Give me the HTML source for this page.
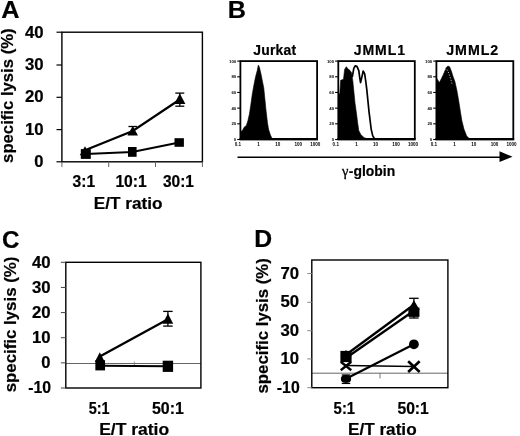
<!DOCTYPE html>
<html lang="en">
<head>
<meta charset="utf-8">
<title>Figure</title>
<style>
html, body { margin: 0; padding: 0; background: #fff; }
body { width: 520px; height: 436px; overflow: hidden; font-family: "Liberation Sans", sans-serif; }
svg { display: block; font-family: "Liberation Sans", sans-serif; }
svg text { fill: #000; }
</style>
</head>
<body>
<svg width="520" height="436" viewBox="0 0 520 436">
<rect x="0" y="0" width="520" height="436" fill="#fff"/>
<!-- Panel A -->
<text transform="translate(1.14,17.7) scale(1.031,1)" font-size="24.6" font-weight="bold" stroke="#000" stroke-width="0.2" stroke-linejoin="round" >A</text>
<rect x="61.9" y="32.2" width="140.5" height="129.60000000000002" fill="none" stroke="#000" stroke-width="1.4"/>
<line x1="56.5" y1="32.2" x2="61.9" y2="32.2" stroke="#000" stroke-width="1.2" />
<text transform="translate(24.92,37.55) scale(1.048,1)" font-size="16" font-weight="bold" stroke="#000" stroke-width="0.2" stroke-linejoin="round" >40</text>
<line x1="56.5" y1="65.0" x2="61.9" y2="65.0" stroke="#000" stroke-width="1.2" />
<text transform="translate(24.92,69.65) scale(1.048,1)" font-size="16" font-weight="bold" stroke="#000" stroke-width="0.2" stroke-linejoin="round" >30</text>
<line x1="56.5" y1="97.3" x2="61.9" y2="97.3" stroke="#000" stroke-width="1.2" />
<text transform="translate(24.93,102.05000000000001) scale(1.048,1)" font-size="16" font-weight="bold" stroke="#000" stroke-width="0.2" stroke-linejoin="round" >20</text>
<line x1="56.5" y1="129.6" x2="61.9" y2="129.6" stroke="#000" stroke-width="1.2" />
<text transform="translate(24.93,134.55) scale(1.048,1)" font-size="16" font-weight="bold" stroke="#000" stroke-width="0.2" stroke-linejoin="round" >10</text>
<line x1="56.5" y1="161.8" x2="61.9" y2="161.8" stroke="#000" stroke-width="1.2" />
<text transform="translate(34.37,166.95000000000002) scale(1.034,1)" font-size="16" font-weight="bold" stroke="#000" stroke-width="0.2" stroke-linejoin="round" >0</text>
<line x1="61.9" y1="161.8" x2="61.9" y2="167" stroke="#666" stroke-width="1.0" />
<line x1="108.7" y1="161.8" x2="108.7" y2="167" stroke="#666" stroke-width="1.0" />
<line x1="155.5" y1="161.8" x2="155.5" y2="167" stroke="#666" stroke-width="1.0" />
<line x1="202.4" y1="161.8" x2="202.4" y2="167" stroke="#666" stroke-width="1.0" />
<text transform="translate(72.52,186.7) scale(0.977,1)" font-size="16" font-weight="bold" stroke="#000" stroke-width="0.2" stroke-linejoin="round" >3:1</text>
<text transform="translate(115.39,186.7) scale(0.982,1)" font-size="16" font-weight="bold" stroke="#000" stroke-width="0.2" stroke-linejoin="round" >10:1</text>
<text transform="translate(162.93,186.7) scale(0.968,1)" font-size="16" font-weight="bold" stroke="#000" stroke-width="0.2" stroke-linejoin="round" >30:1</text>
<text transform="translate(93.76,208.5) scale(1.102,1)" font-size="15.6" font-weight="bold" stroke="#000" stroke-width="0.2" stroke-linejoin="round" >E/T ratio</text>
<text transform="translate(13.4,162.90) rotate(-90) scale(1.031,1)" font-size="16.2" font-weight="bold" stroke="#000" stroke-width="0.2" stroke-linejoin="round">specific lysis (%)</text>
<polyline points="85,150.3 132.7,131 179.8,99.5" fill="none" stroke="#000" stroke-width="2.2"/>
<polyline points="85.8,154 132.3,152 179.2,142.5" fill="none" stroke="#000" stroke-width="1.8"/>
<line x1="132.7" y1="126.5" x2="132.7" y2="134" stroke="#000" stroke-width="1.3" /><line x1="128.45" y1="126.5" x2="136.95" y2="126.5" stroke="#000" stroke-width="1.3" /><line x1="128.45" y1="134" x2="136.95" y2="134" stroke="#000" stroke-width="1.3" />
<line x1="179.8" y1="93.1" x2="179.8" y2="106.2" stroke="#000" stroke-width="1.3" /><line x1="175.3" y1="93.1" x2="184.3" y2="93.1" stroke="#000" stroke-width="1.3" /><line x1="175.3" y1="106.2" x2="184.3" y2="106.2" stroke="#000" stroke-width="1.3" />
<polygon points="85,146.2 90.25,155.2 79.75,155.2" fill="#000"/>
<polygon points="132.7,126.05000000000001 137.95,135.55 127.44999999999999,135.55" fill="#000"/>
<polygon points="179.8,93.6 185.4,104.0 174.20000000000002,104.0" fill="#000"/>
<rect x="80.8" y="149.1" width="10" height="9.8" fill="#000"/>
<rect x="128.0" y="147.0" width="8.6" height="9.8" fill="#000"/>
<rect x="174.5" y="138.2" width="9.4" height="8.6" fill="#000"/>
<!-- Panel B -->
<text transform="translate(227.83,18.1) scale(1.035,1)" font-size="24.4" font-weight="bold" stroke="#000" stroke-width="0.2" stroke-linejoin="round" >B</text>
<clipPath id="hc1"><rect x="240.4" y="61.1" width="76.70000000000002" height="78.4"/></clipPath>
<g clip-path="url(#hc1)">
<polygon points="240.69,139.83 240.69,131.55 242.43,130.46 244.17,127.20 246.35,125.45 247.88,120.66 249.40,114.12 250.71,105.41 252.23,94.52 253.76,85.80 255.50,77.09 257.24,70.55 258.33,65.10 259.42,67.28 260.95,73.82 262.47,81.44 263.78,87.98 264.87,98.87 265.96,109.77 267.48,122.84 268.57,129.37 270.32,134.82 271.84,138.09 274.02,139.83" fill="#000" stroke="#000" stroke-width="0.6" stroke-linejoin="round"/>
</g>
<rect x="240.40" y="61.10" width="76.70" height="78.40" fill="none" stroke="#000" stroke-width="1.8"/>
<line x1="239.5" y1="138.6" x2="318.0" y2="138.6" stroke="#000" stroke-width="1.4" />
<line x1="237.20000000000002" y1="61.1" x2="240.4" y2="61.1" stroke="#000" stroke-width="1.1" />
<text x="236.20000000000002" y="62.6" font-size="4.3" font-weight="bold" text-anchor="end" fill="#333">100</text>
<line x1="237.20000000000002" y1="76.78" x2="240.4" y2="76.78" stroke="#000" stroke-width="1.1" />
<text x="236.20000000000002" y="78.28" font-size="4.3" font-weight="bold" text-anchor="end" fill="#333">80</text>
<line x1="237.20000000000002" y1="92.46000000000001" x2="240.4" y2="92.46000000000001" stroke="#000" stroke-width="1.1" />
<text x="236.20000000000002" y="93.96000000000001" font-size="4.3" font-weight="bold" text-anchor="end" fill="#333">60</text>
<line x1="237.20000000000002" y1="108.14000000000001" x2="240.4" y2="108.14000000000001" stroke="#000" stroke-width="1.1" />
<text x="236.20000000000002" y="109.64000000000001" font-size="4.3" font-weight="bold" text-anchor="end" fill="#333">40</text>
<line x1="237.20000000000002" y1="123.82000000000001" x2="240.4" y2="123.82000000000001" stroke="#000" stroke-width="1.1" />
<text x="236.20000000000002" y="125.32000000000001" font-size="4.3" font-weight="bold" text-anchor="end" fill="#333">20</text>
<line x1="237.20000000000002" y1="139.5" x2="240.4" y2="139.5" stroke="#000" stroke-width="1.1" />
<text x="236.20000000000002" y="141.0" font-size="4.3" font-weight="bold" text-anchor="end" fill="#333">0</text>
<text x="237.9" y="145.5" font-size="4.6" font-weight="bold" text-anchor="middle" fill="#333">0.1</text>
<text x="258.575" y="145.5" font-size="4.6" font-weight="bold" text-anchor="middle" fill="#333">1</text>
<text x="277.75" y="145.5" font-size="4.6" font-weight="bold" text-anchor="middle" fill="#333">10</text>
<text x="298.325" y="145.5" font-size="4.6" font-weight="bold" text-anchor="middle" fill="#333">100</text>
<text x="315.3" y="145.5" font-size="4.6" font-weight="bold" text-anchor="middle" fill="#333">1000</text>
<text transform="translate(253.28,54.8) scale(0.997,1)" font-size="14" font-weight="bold" stroke="#000" stroke-width="0.2" stroke-linejoin="round"  letter-spacing="0.2">Jurkat</text>
<clipPath id="hc2"><rect x="338.3" y="61.1" width="76.5" height="78.4"/></clipPath>
<g clip-path="url(#hc2)">
<polygon points="338.49,139.83 338.49,94.52 339.79,93.43 340.66,80.35 343.50,79.27 344.59,69.46 346.33,66.63 347.85,68.81 350.03,70.55 351.56,72.73 352.87,81.44 353.95,92.34 355.04,103.23 356.57,114.12 357.66,122.84 358.75,130.46 360.93,134.82 364.19,137.65 368.55,139.18 372.91,139.83" fill="#000" stroke="#000" stroke-width="0.6" stroke-linejoin="round"/>
<polyline points="352.27,77.09 353.79,68.37 355.32,65.76 357.06,66.63 358.80,70.55 359.67,77.09 360.54,82.53 361.85,77.09 363.16,70.99 364.68,73.82 365.77,81.44 366.86,90.16 367.95,101.05 369.04,111.94 370.13,120.66 371.22,129.37 372.74,135.91 374.49,138.74 376.67,139.83" fill="none" stroke="#000" stroke-width="1.7" stroke-linejoin="round"/>
</g>
<rect x="338.30" y="61.10" width="76.50" height="78.40" fill="none" stroke="#000" stroke-width="1.8"/>
<line x1="337.40000000000003" y1="138.6" x2="415.7" y2="138.6" stroke="#000" stroke-width="1.4" />
<line x1="335.1" y1="61.1" x2="338.3" y2="61.1" stroke="#000" stroke-width="1.1" />
<text x="334.1" y="62.6" font-size="4.3" font-weight="bold" text-anchor="end" fill="#333">100</text>
<line x1="335.1" y1="76.78" x2="338.3" y2="76.78" stroke="#000" stroke-width="1.1" />
<text x="334.1" y="78.28" font-size="4.3" font-weight="bold" text-anchor="end" fill="#333">80</text>
<line x1="335.1" y1="92.46000000000001" x2="338.3" y2="92.46000000000001" stroke="#000" stroke-width="1.1" />
<text x="334.1" y="93.96000000000001" font-size="4.3" font-weight="bold" text-anchor="end" fill="#333">60</text>
<line x1="335.1" y1="108.14000000000001" x2="338.3" y2="108.14000000000001" stroke="#000" stroke-width="1.1" />
<text x="334.1" y="109.64000000000001" font-size="4.3" font-weight="bold" text-anchor="end" fill="#333">40</text>
<line x1="335.1" y1="123.82000000000001" x2="338.3" y2="123.82000000000001" stroke="#000" stroke-width="1.1" />
<text x="334.1" y="125.32000000000001" font-size="4.3" font-weight="bold" text-anchor="end" fill="#333">20</text>
<line x1="335.1" y1="139.5" x2="338.3" y2="139.5" stroke="#000" stroke-width="1.1" />
<text x="334.1" y="141.0" font-size="4.3" font-weight="bold" text-anchor="end" fill="#333">0</text>
<text x="335.8" y="145.5" font-size="4.6" font-weight="bold" text-anchor="middle" fill="#333">0.1</text>
<text x="356.425" y="145.5" font-size="4.6" font-weight="bold" text-anchor="middle" fill="#333">1</text>
<text x="375.55" y="145.5" font-size="4.6" font-weight="bold" text-anchor="middle" fill="#333">10</text>
<text x="396.075" y="145.5" font-size="4.6" font-weight="bold" text-anchor="middle" fill="#333">100</text>
<text x="413.0" y="145.5" font-size="4.6" font-weight="bold" text-anchor="middle" fill="#333">1000</text>
<text transform="translate(353.78,54.8) scale(1.003,1)" font-size="14" font-weight="bold" stroke="#000" stroke-width="0.2" stroke-linejoin="round"  letter-spacing="0.9">JMML1</text>
<clipPath id="hc3"><rect x="436.4" y="61.1" width="76.89999999999998" height="78.4"/></clipPath>
<g clip-path="url(#hc3)">
<polygon points="436.59,139.83 436.59,78.18 439.42,82.53 441.60,78.18 443.99,72.95 446.17,67.72 447.92,65.98 449.66,66.85 451.62,71.86 452.93,76.22 454.89,81.44 456.85,90.16 458.37,98.87 460.12,109.77 461.86,120.66 464.04,129.37 466.65,135.91 469.92,139.18 473.19,139.83" fill="#000" stroke="#000" stroke-width="0.6" stroke-linejoin="round"/>
<polyline points="442.25,75.34 443.56,71.42 445.30,69.24 447.48,70.11 449.22,74.47 450.97,79.70 452.05,84.06" fill="none" stroke="#fff" stroke-width="0.7" stroke-dasharray="1.2 1.6" stroke-linejoin="round"/>
</g>
<rect x="436.40" y="61.10" width="76.90" height="78.40" fill="none" stroke="#000" stroke-width="1.8"/>
<line x1="435.5" y1="138.6" x2="514.1999999999999" y2="138.6" stroke="#000" stroke-width="1.4" />
<line x1="433.2" y1="61.1" x2="436.4" y2="61.1" stroke="#000" stroke-width="1.1" />
<text x="432.2" y="62.6" font-size="4.3" font-weight="bold" text-anchor="end" fill="#333">100</text>
<line x1="433.2" y1="76.78" x2="436.4" y2="76.78" stroke="#000" stroke-width="1.1" />
<text x="432.2" y="78.28" font-size="4.3" font-weight="bold" text-anchor="end" fill="#333">80</text>
<line x1="433.2" y1="92.46000000000001" x2="436.4" y2="92.46000000000001" stroke="#000" stroke-width="1.1" />
<text x="432.2" y="93.96000000000001" font-size="4.3" font-weight="bold" text-anchor="end" fill="#333">60</text>
<line x1="433.2" y1="108.14000000000001" x2="436.4" y2="108.14000000000001" stroke="#000" stroke-width="1.1" />
<text x="432.2" y="109.64000000000001" font-size="4.3" font-weight="bold" text-anchor="end" fill="#333">40</text>
<line x1="433.2" y1="123.82000000000001" x2="436.4" y2="123.82000000000001" stroke="#000" stroke-width="1.1" />
<text x="432.2" y="125.32000000000001" font-size="4.3" font-weight="bold" text-anchor="end" fill="#333">20</text>
<line x1="433.2" y1="139.5" x2="436.4" y2="139.5" stroke="#000" stroke-width="1.1" />
<text x="432.2" y="141.0" font-size="4.3" font-weight="bold" text-anchor="end" fill="#333">0</text>
<text x="433.9" y="145.5" font-size="4.6" font-weight="bold" text-anchor="middle" fill="#333">0.1</text>
<text x="454.625" y="145.5" font-size="4.6" font-weight="bold" text-anchor="middle" fill="#333">1</text>
<text x="473.84999999999997" y="145.5" font-size="4.6" font-weight="bold" text-anchor="middle" fill="#333">10</text>
<text x="494.4749999999999" y="145.5" font-size="4.6" font-weight="bold" text-anchor="middle" fill="#333">100</text>
<text x="511.49999999999994" y="145.5" font-size="4.6" font-weight="bold" text-anchor="middle" fill="#333">1000</text>
<text transform="translate(446.27,54.8) scale(1.018,1)" font-size="14" font-weight="bold" stroke="#000" stroke-width="0.2" stroke-linejoin="round"  letter-spacing="0.9">JMML2</text>
<line x1="237.5" y1="157.2" x2="502" y2="157.2" stroke="#000" stroke-width="1.6" />
<polygon points="499.5,151.2 512.5,156.8 499.5,162" fill="#000"/>
<text x="342.1" y="175.5" font-size="14.5" font-weight="normal" stroke="#000" stroke-width="0.3" font-family='"Liberation Serif", serif'>γ</text>
<text transform="translate(348.74,175.9) scale(1.010,1)" font-size="13.8" font-weight="bold" stroke="#000" stroke-width="0.2" stroke-linejoin="round" >-globin</text>
<!-- Panel C -->
<text transform="translate(1.88,247.6) scale(0.985,1)" font-size="24.6" font-weight="bold" stroke="#000" stroke-width="0.2" stroke-linejoin="round" >C</text>
<line x1="65.8" y1="363.5" x2="200.9" y2="363.5" stroke="#666" stroke-width="1" />
<line x1="134.3" y1="361.5" x2="134.3" y2="366.5" stroke="#777" stroke-width="0.8" />
<rect x="65.8" y="262.3" width="135.10000000000002" height="125.69999999999999" fill="none" stroke="#000" stroke-width="1.4"/>
<line x1="60.9" y1="262.3" x2="65.8" y2="262.3" stroke="#444" stroke-width="1.0" />
<text transform="translate(31.92,268.0) scale(1.048,1)" font-size="16" font-weight="bold" stroke="#000" stroke-width="0.2" stroke-linejoin="round" >40</text>
<line x1="60.9" y1="287.44" x2="65.8" y2="287.44" stroke="#444" stroke-width="1.0" />
<text transform="translate(31.92,292.95) scale(1.048,1)" font-size="16" font-weight="bold" stroke="#000" stroke-width="0.2" stroke-linejoin="round" >30</text>
<line x1="60.9" y1="312.58" x2="65.8" y2="312.58" stroke="#444" stroke-width="1.0" />
<text transform="translate(31.93,317.9) scale(1.048,1)" font-size="16" font-weight="bold" stroke="#000" stroke-width="0.2" stroke-linejoin="round" >20</text>
<line x1="60.9" y1="337.72" x2="65.8" y2="337.72" stroke="#444" stroke-width="1.0" />
<text transform="translate(31.93,342.85) scale(1.048,1)" font-size="16" font-weight="bold" stroke="#000" stroke-width="0.2" stroke-linejoin="round" >10</text>
<line x1="60.9" y1="362.86" x2="65.8" y2="362.86" stroke="#444" stroke-width="1.0" />
<text transform="translate(41.37,367.8) scale(1.034,1)" font-size="16" font-weight="bold" stroke="#000" stroke-width="0.2" stroke-linejoin="round" >0</text>
<line x1="60.9" y1="388.0" x2="65.8" y2="388.0" stroke="#444" stroke-width="1.0" />
<text transform="translate(28.21,392.8) scale(0.991,1)" font-size="16" font-weight="bold" stroke="#000" stroke-width="0.2" stroke-linejoin="round" >-10</text>
<text transform="translate(88.64,414.2) scale(0.906,1)" font-size="16" font-weight="bold" stroke="#000" stroke-width="0.2" stroke-linejoin="round" >5:1</text>
<text transform="translate(151.89,414.2) scale(0.998,1)" font-size="16" font-weight="bold" stroke="#000" stroke-width="0.2" stroke-linejoin="round" >50:1</text>
<text transform="translate(99.14,435.0) scale(1.122,1)" font-size="15.6" font-weight="bold" stroke="#000" stroke-width="0.2" stroke-linejoin="round" >E/T ratio</text>
<text transform="translate(16.0,392.31) rotate(-90) scale(1.040,1)" font-size="16.2" font-weight="bold" stroke="#000" stroke-width="0.2" stroke-linejoin="round">specific lysis (%)</text>
<line x1="99.8" y1="356.5" x2="167.9" y2="319.3" stroke="#000" stroke-width="2.3" />
<line x1="100.5" y1="365.8" x2="168" y2="366.2" stroke="#000" stroke-width="1.9" />
<line x1="167.9" y1="311.4" x2="167.9" y2="326.1" stroke="#000" stroke-width="1.3" /><line x1="163.15" y1="311.4" x2="172.65" y2="311.4" stroke="#000" stroke-width="1.3" /><line x1="163.15" y1="326.1" x2="172.65" y2="326.1" stroke="#000" stroke-width="1.3" />
<polygon points="99.8,352.2 104.7,361.8 94.89999999999999,361.8" fill="#000"/>
<polygon points="167.9,313.59999999999997 173.20000000000002,323.8 162.6,323.8" fill="#000"/>
<rect x="95.35000000000001" y="360.2" width="9.7" height="10.2" fill="#000"/>
<rect x="162.70000000000002" y="360.7" width="10.4" height="11.2" fill="#000"/>
<!-- Panel D -->
<text transform="translate(254.27,247.2) scale(1.015,1)" font-size="24.4" font-weight="bold" stroke="#000" stroke-width="0.2" stroke-linejoin="round" >D</text>
<line x1="311.8" y1="373.2" x2="447.9" y2="373.2" stroke="#666" stroke-width="1" />
<line x1="380" y1="373.3" x2="380" y2="378.5" stroke="#555" stroke-width="0.8" />
<rect x="311.8" y="260" width="136.09999999999997" height="127.69999999999999" fill="none" stroke="#000" stroke-width="1.4"/>
<line x1="307.3" y1="273.5" x2="311.8" y2="273.5" stroke="#888" stroke-width="1.0" />
<text transform="translate(280.53,278.6) scale(1.048,1)" font-size="16" font-weight="bold" stroke="#000" stroke-width="0.2" stroke-linejoin="round" >70</text>
<line x1="307.3" y1="302.3" x2="311.8" y2="302.3" stroke="#888" stroke-width="1.0" />
<text transform="translate(280.53,307.40000000000003) scale(1.048,1)" font-size="16" font-weight="bold" stroke="#000" stroke-width="0.2" stroke-linejoin="round" >50</text>
<line x1="307.3" y1="330.7" x2="311.8" y2="330.7" stroke="#888" stroke-width="1.0" />
<text transform="translate(280.52,335.8) scale(1.048,1)" font-size="16" font-weight="bold" stroke="#000" stroke-width="0.2" stroke-linejoin="round" >30</text>
<line x1="307.3" y1="358.9" x2="311.8" y2="358.9" stroke="#888" stroke-width="1.0" />
<text transform="translate(280.53,364.0) scale(1.048,1)" font-size="16" font-weight="bold" stroke="#000" stroke-width="0.2" stroke-linejoin="round" >10</text>
<line x1="307.3" y1="387.7" x2="311.8" y2="387.7" stroke="#888" stroke-width="1.0" />
<text transform="translate(276.81,393.0) scale(0.991,1)" font-size="16" font-weight="bold" stroke="#000" stroke-width="0.2" stroke-linejoin="round" >-10</text>
<text transform="translate(333.62,414.2) scale(0.929,1)" font-size="16" font-weight="bold" stroke="#000" stroke-width="0.2" stroke-linejoin="round" >5:1</text>
<text transform="translate(397.40,414.2) scale(0.982,1)" font-size="16" font-weight="bold" stroke="#000" stroke-width="0.2" stroke-linejoin="round" >50:1</text>
<text transform="translate(347.97,435.0) scale(1.101,1)" font-size="15.6" font-weight="bold" stroke="#000" stroke-width="0.2" stroke-linejoin="round" >E/T ratio</text>
<text transform="translate(268.0,393.50) rotate(-90) scale(1.037,1)" font-size="16.2" font-weight="bold" stroke="#000" stroke-width="0.2" stroke-linejoin="round">specific lysis (%)</text>
<line x1="346" y1="354.8" x2="413.9" y2="304.8" stroke="#000" stroke-width="2.3" />
<line x1="346" y1="358" x2="413.9" y2="310.8" stroke="#000" stroke-width="2.3" />
<line x1="346" y1="378.7" x2="413.9" y2="344.3" stroke="#000" stroke-width="2.2" />
<line x1="346" y1="365.5" x2="413.9" y2="366.5" stroke="#000" stroke-width="1.7" />
<line x1="413.9" y1="298.3" x2="413.9" y2="318" stroke="#000" stroke-width="1.3" /><line x1="409.15" y1="298.3" x2="418.65" y2="298.3" stroke="#000" stroke-width="1.3" /><line x1="409.15" y1="318" x2="418.65" y2="318" stroke="#000" stroke-width="1.3" />
<line x1="346" y1="375" x2="346" y2="383.4" stroke="#000" stroke-width="1.3" /><line x1="341.75" y1="375" x2="350.25" y2="375" stroke="#000" stroke-width="1.3" /><line x1="341.75" y1="383.4" x2="350.25" y2="383.4" stroke="#000" stroke-width="1.3" />
<rect x="340.4" y="350.9" width="11.2" height="11.2" fill="#000"/>
<polygon points="346,350.0 351.5,357.0 340.5,357.0" fill="#000"/>
<polygon points="413.9,300.20000000000005 419.7,310.0 408.09999999999997,310.0" fill="#000"/>
<rect x="408.34999999999997" y="307.5" width="11.1" height="9.4" fill="#000"/>
<rect rx="4.2" ry="3.8" x="340.9" y="375.0" width="10.2" height="7.8" fill="#000"/>
<circle cx="413.9" cy="344.3" r="4.9" fill="#000"/>
<line x1="340.75" y1="361.75" x2="351.25" y2="370.25" stroke="#000" stroke-width="2.3" /><line x1="340.75" y1="370.25" x2="351.25" y2="361.75" stroke="#000" stroke-width="2.3" />
<line x1="408.15" y1="361.20000000000005" x2="419.65" y2="372.0" stroke="#000" stroke-width="2.6" /><line x1="408.15" y1="372.0" x2="419.65" y2="361.20000000000005" stroke="#000" stroke-width="2.6" />
</svg>
</body>
</html>
